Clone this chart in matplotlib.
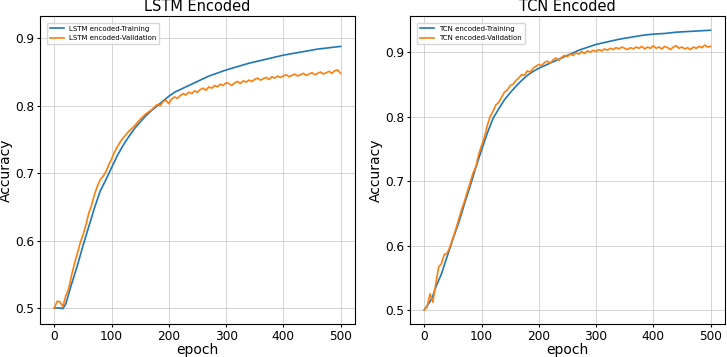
import numpy as np
import matplotlib
matplotlib.use('Agg')
import matplotlib.pyplot as plt

# Training curves, read every 10 epochs
train_epochs = [0, 10, 15, 20, 30, 40, 50, 60, 70, 80, 90, 100, 110, 120, 130, 140, 150,
                160, 170, 180, 190, 200, 210, 220, 230, 240, 250, 260, 270, 280, 290, 300,
                320, 340, 360, 380, 400, 420, 440, 460, 480, 500]

lstm_train = [0.500, 0.500, 0.499, 0.506, 0.535, 0.562, 0.592, 0.620, 0.648, 0.673, 0.690,
              0.708, 0.726, 0.741, 0.754, 0.766, 0.776, 0.785, 0.793, 0.800, 0.807, 0.814,
              0.820, 0.824, 0.828, 0.832, 0.836, 0.840, 0.844, 0.847, 0.850, 0.853,
              0.858, 0.863, 0.867, 0.871, 0.875, 0.878, 0.881, 0.884, 0.886, 0.888]

tcn_train = [0.500, 0.513, 0.522, 0.535, 0.556, 0.583, 0.610, 0.635, 0.664, 0.692, 0.721,
             0.748, 0.774, 0.797, 0.812, 0.826, 0.837, 0.847, 0.856, 0.864, 0.870, 0.875,
             0.879, 0.883, 0.887, 0.891, 0.895, 0.899, 0.903, 0.906, 0.909, 0.912,
             0.916, 0.920, 0.923, 0.926, 0.928, 0.929, 0.931, 0.932, 0.933, 0.934]

# Validation curves, read every 5 epochs
val_epochs = list(range(0, 505, 5))

lstm_val = [0.500, 0.510, 0.509, 0.502, 0.518, 0.528, 0.548, 0.565, 0.580, 0.596,
            0.608, 0.622, 0.640, 0.652, 0.668, 0.680, 0.690, 0.695, 0.702, 0.712,
            0.721, 0.731, 0.739, 0.746, 0.752, 0.757, 0.762, 0.766, 0.770, 0.775,
            0.780, 0.784, 0.788, 0.791, 0.794, 0.798, 0.802, 0.800, 0.806, 0.808,
            0.803, 0.810, 0.813, 0.811, 0.815, 0.818, 0.816, 0.820, 0.818, 0.822,
            0.820, 0.824, 0.826, 0.823, 0.828, 0.826, 0.830, 0.828, 0.832, 0.830,
            0.834, 0.833, 0.830, 0.834, 0.836, 0.833, 0.837, 0.835, 0.838, 0.836,
            0.839, 0.841, 0.838, 0.840, 0.842, 0.839, 0.843, 0.841, 0.844, 0.842,
            0.844, 0.846, 0.843, 0.845, 0.847, 0.844, 0.846, 0.848, 0.845, 0.847,
            0.849, 0.846, 0.848, 0.850, 0.847, 0.849, 0.851, 0.848, 0.852, 0.853,
            0.848]

tcn_val = [0.500, 0.505, 0.525, 0.512, 0.540, 0.566, 0.572, 0.586, 0.588, 0.598,
           0.612, 0.625, 0.640, 0.655, 0.668, 0.683, 0.697, 0.712, 0.722, 0.741,
           0.755, 0.768, 0.786, 0.800, 0.808, 0.818, 0.822, 0.830, 0.838, 0.841,
           0.848, 0.850, 0.856, 0.860, 0.865, 0.864, 0.871, 0.869, 0.875, 0.878,
           0.881, 0.879, 0.884, 0.886, 0.883, 0.888, 0.891, 0.887, 0.892, 0.895,
           0.893, 0.897, 0.895, 0.899, 0.897, 0.901, 0.898, 0.902, 0.900, 0.903,
           0.901, 0.904, 0.902, 0.905, 0.903, 0.906, 0.904, 0.907, 0.905, 0.908,
           0.906, 0.904, 0.907, 0.905, 0.908, 0.906, 0.909, 0.905, 0.908, 0.906,
           0.910, 0.906, 0.908, 0.905, 0.909, 0.907, 0.904, 0.908, 0.910, 0.906,
           0.908, 0.905, 0.907, 0.904, 0.908, 0.906, 0.909, 0.907, 0.911, 0.908,
           0.909]

panels = [
    ('LSTM Encoded', 'LSTM encoded', lstm_train, lstm_val, (0.476, 0.933)),
    ('TCN Encoded', 'TCN encoded', tcn_train, tcn_val, (0.478, 0.956)),
]

fig, axes = plt.subplots(1, 2, figsize=(7.27, 3.57), dpi=100)
fig.subplots_adjust(left=0.055, right=0.997, bottom=0.092, top=0.955, wspace=0.175)

for ax, (title, name, train, val, ylim) in zip(axes, panels):
    ax.plot(train_epochs, train, color='#1f77b4', linewidth=1.2, label=name + '-Training')
    ax.plot(val_epochs, val, color='#ff7f0e', linewidth=1.2, label=name + '-Validation')
    ax.set_title(title, fontsize=10.5, pad=3.5)
    ax.set_xlabel('epoch', fontsize=10, labelpad=0.5)
    ax.set_ylabel('Accuracy', fontsize=10, labelpad=2)
    ax.set_xlim(-25, 525)
    ax.set_ylim(*ylim)
    ax.set_xticks([0, 100, 200, 300, 400, 500])
    ax.set_yticks([0.5, 0.6, 0.7, 0.8, 0.9])
    ax.tick_params(labelsize=8.7, length=2.5, pad=1.5)
    ax.grid(True, color='#cccccc', linewidth=0.6)
    ax.legend(loc='upper left', fontsize=5, borderaxespad=1.0)

fig.savefig('out.png', dpi=100)
